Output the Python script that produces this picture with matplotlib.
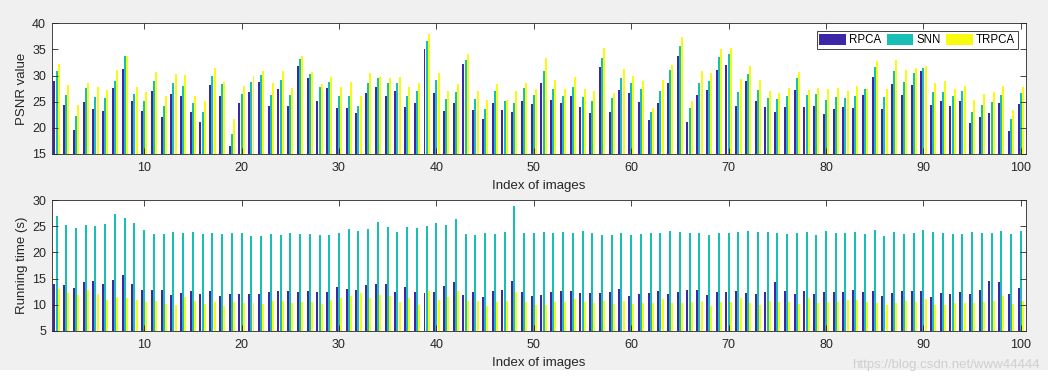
"""Grouped bar charts of PSNR and running time for RPCA, SNN and TRPCA over 100 images."""

import matplotlib
matplotlib.use('Agg')
import matplotlib.pyplot as plt
import numpy as np

methods = ['RPCA', 'SNN', 'TRPCA']

# PSNR values per image
psnr_rpca = [29.0, 24.4, 19.6, 24.9, 23.6, 23.2, 27.6, 31.3, 25.1, 23.2,
             27.05, 22.1, 26.5, 26.1, 23.0, 21.1, 28.2, 26.1, 16.5, 24.8,
             26.9, 28.8, 24.2, 27.4, 24.2, 31.8, 29.5, 25.1, 27.6, 23.8,
             23.8, 22.8, 26.7, 27.8, 26.1, 27.05, 24.0, 24.8, 35.1, 26.7,
             23.2, 24.8, 32.2, 23.4, 21.7, 24.8, 23.4, 23.0, 25.1, 24.6,
             28.6, 25.3, 24.8, 26.1, 24.0, 22.8, 31.6, 23.0, 27.2, 26.7,
             24.9, 21.5, 24.8, 28.6, 33.75, 21.1, 26.3, 27.2, 31.1, 32.0,
             24.2, 29.0, 25.1, 24.0, 23.0, 24.0, 27.2, 24.0, 24.2, 22.65,
             23.6, 24.0, 23.8, 26.3, 29.7, 23.6, 28.4, 26.3, 28.2, 30.9,
             24.4, 25.1, 24.2, 25.1, 20.9, 22.1, 22.8, 24.8, 19.4, 24.6]
psnr_snn = [30.9, 26.3, 22.3, 27.6, 25.9, 25.7, 29.0, 33.75, 26.5, 25.1,
            29.0, 24.2, 28.6, 28.0, 24.8, 23.0, 29.9, 28.4, 18.8, 26.5,
            28.8, 30.1, 26.3, 29.2, 26.3, 33.2, 30.3, 27.8, 28.8, 26.1,
            26.1, 24.2, 28.6, 29.5, 28.6, 28.6, 26.1, 27.05, 36.6, 29.2,
            25.5, 26.9, 33.0, 25.5, 23.6, 27.05, 25.1, 24.8, 27.6, 26.3,
            30.9, 27.4, 26.1, 27.8, 25.9, 25.1, 33.4, 25.7, 29.5, 28.6,
            27.4, 23.0, 27.05, 31.1, 35.7, 23.8, 28.6, 29.0, 33.6, 34.1,
            26.9, 30.3, 27.2, 25.7, 25.5, 26.1, 29.5, 26.3, 26.5, 25.3,
            25.9, 25.7, 26.1, 27.4, 31.6, 25.9, 30.9, 28.8, 30.5, 31.5,
            26.9, 26.9, 26.1, 27.05, 23.0, 24.4, 24.9, 26.3, 21.7, 26.7]
psnr_trpca = [32.2, 28.2, 24.4, 28.6, 27.8, 27.2, 31.1, 33.75, 27.8, 26.9,
              30.7, 26.1, 30.3, 30.1, 26.1, 25.1, 31.5, 28.8, 21.7, 28.0,
              29.9, 30.9, 28.6, 30.9, 27.6, 33.75, 30.7, 28.4, 29.7, 27.8,
              28.8, 26.1, 30.5, 29.7, 29.5, 29.7, 27.8, 28.6, 38.0, 30.5,
              27.05, 28.4, 34.1, 27.05, 25.3, 28.4, 25.3, 27.05, 28.6, 27.4,
              33.4, 29.2, 27.4, 29.7, 27.4, 27.05, 35.3, 26.7, 31.3, 29.9,
              29.0, 23.8, 29.2, 32.0, 37.4, 25.1, 30.9, 30.5, 35.1, 35.3,
              29.35, 31.8, 29.2, 27.05, 26.7, 27.6, 30.7, 27.2, 27.6, 27.4,
              27.6, 27.05, 28.0, 27.4, 32.8, 27.4, 33.0, 31.1, 31.5, 31.8,
              28.6, 29.0, 27.4, 28.0, 25.3, 26.5, 26.9, 28.0, 23.4, 27.8]

# running time (s) per image
time_rpca = [14.0, 13.8, 13.2, 14.3, 14.5, 14.0, 14.7, 15.7, 14.0, 12.8,
             12.8, 12.8, 11.8, 12.2, 12.6, 12.0, 12.6, 11.65, 12.0, 12.0,
             12.0, 12.0, 12.4, 12.6, 12.6, 12.4, 12.6, 12.4, 12.4, 13.4,
             13.0, 12.8, 13.8, 14.0, 14.0, 12.4, 13.4, 12.4, 12.2, 12.4,
             13.6, 14.3, 11.8, 12.4, 11.5, 12.6, 12.8, 14.5, 12.4, 11.65,
             11.8, 12.4, 12.6, 12.6, 12.2, 12.2, 12.2, 12.4, 13.0, 11.65,
             12.0, 12.2, 12.6, 12.0, 12.4, 12.8, 12.8, 11.8, 12.4, 12.4,
             12.6, 12.2, 12.0, 12.4, 14.3, 12.6, 12.0, 12.6, 12.0, 12.4,
             12.4, 12.4, 12.8, 12.4, 12.6, 11.65, 12.2, 12.6, 12.6, 12.6,
             11.5, 12.2, 12.0, 12.4, 12.0, 12.8, 14.5, 14.3, 12.0, 13.2]
time_snn = [27.0, 25.3, 24.7, 25.3, 25.1, 25.5, 27.4, 26.6, 25.65, 24.3,
            23.5, 23.5, 23.9, 23.7, 23.9, 23.5, 23.7, 23.5, 23.7, 23.7,
            23.2, 23.2, 23.5, 23.35, 23.7, 23.5, 23.5, 23.35, 23.35, 23.7,
            24.5, 24.1, 24.5, 25.8, 24.9, 23.9, 24.9, 24.7, 25.1, 25.65,
            25.3, 26.4, 23.5, 23.35, 23.7, 23.5, 23.9, 28.9, 23.7, 23.7,
            23.9, 23.7, 23.9, 23.7, 24.1, 23.7, 23.35, 23.35, 23.7, 23.35,
            23.5, 23.7, 23.7, 24.1, 23.9, 23.7, 23.7, 23.35, 23.7, 23.7,
            23.9, 24.1, 23.9, 23.9, 23.7, 23.5, 23.7, 23.9, 23.35, 24.1,
            23.7, 23.7, 23.9, 23.5, 24.3, 23.2, 23.9, 23.5, 23.7, 24.3,
            23.9, 23.7, 23.5, 23.5, 23.9, 23.7, 23.7, 24.1, 23.5, 24.1]
time_trpca = [13.0, 12.2, 11.8, 12.8, 12.0, 10.9, 11.5, 11.3, 10.9, 10.5,
              10.7, 10.1, 9.9, 11.5, 10.7, 10.1, 10.5, 9.7, 10.5, 10.3,
              10.3, 10.1, 10.7, 10.7, 10.3, 10.5, 10.5, 10.1, 10.9, 11.3,
              11.65, 12.2, 11.3, 11.8, 11.65, 10.5, 11.3, 9.9, 12.6, 10.9,
              11.5, 12.6, 10.7, 10.7, 9.7, 10.5, 10.7, 12.4, 10.5, 9.9,
              9.9, 10.5, 10.5, 11.1, 10.5, 10.3, 10.7, 10.1, 10.7, 10.1,
              10.3, 10.3, 11.1, 10.3, 10.3, 10.5, 10.7, 9.7, 10.5, 10.5,
              11.3, 10.3, 9.9, 10.7, 10.5, 10.5, 10.1, 11.3, 10.3, 10.5,
              10.5, 10.9, 10.9, 10.5, 10.3, 9.9, 10.3, 10.7, 10.5, 11.1,
              9.9, 9.9, 10.3, 10.3, 10.3, 10.5, 10.7, 11.65, 10.1, 10.7]

colors = ['#3e26a8', '#17bfb4', '#f9fb0e']
index = np.arange(1, len(psnr_rpca) + 1)


def grouped_bars(ax, series, ylim, yticks, ylabel):
    """Draw a MATLAB style grouped bar chart on ax."""
    step = 0.222
    for k, (vals, col) in enumerate(zip(series, colors)):
        ax.bar(index + (k - 1) * step, vals, width=0.205, color=col,
               label=methods[k], linewidth=0, antialiased=False)
    ax.set_xlim(0.5, 100.5)
    ax.set_ylim(*ylim)
    ax.set_yticks(yticks)
    ax.set_xticks(np.arange(10, 101, 10))
    ax.tick_params(direction='in', top=True, right=True, length=4,
                   labelsize=9, colors='#262626', width=0.6)
    ax.tick_params(axis='x', pad=6)
    ax.tick_params(axis='y', pad=4)
    for s in ax.spines.values():
        s.set_color('#262626')
        s.set_linewidth(0.6)
    ax.set_xlabel('Index of images', fontsize=9.5, labelpad=4, color='#262626')
    ax.set_ylabel(ylabel, fontsize=9.5, labelpad=3, color='#262626')


plt.rcParams['font.family'] = ['Liberation Sans', 'DejaVu Sans']
fig = plt.figure(figsize=(10.48, 3.84), dpi=100, facecolor='#f0f0f0')
# the screenshot ends in a white strip below the figure window
fig.patches.append(plt.Rectangle((0, 0), 1, 14 / 384, transform=fig.transFigure,
                                 facecolor='white', edgecolor='none', zorder=0))

ax1 = fig.add_axes([0.0493, 0.599, 0.9294, 0.3404])
grouped_bars(ax1, [psnr_rpca, psnr_snn, psnr_trpca], (15, 40),
             np.arange(15, 41, 5), 'PSNR value')
leg = ax1.legend(loc='upper right', ncol=3, fontsize=8.3, frameon=True,
                 fancybox=False, edgecolor='#262626', handlelength=2.3,
                 handleheight=1.0, handletextpad=0.25, columnspacing=0.5,
                 borderpad=0.25, borderaxespad=0.7, framealpha=1)
leg.get_frame().set_linewidth(0.6)

ax2 = fig.add_axes([0.0493, 0.1388, 0.9294, 0.3396])
grouped_bars(ax2, [time_rpca, time_snn, time_trpca], (5, 30),
             np.arange(5, 31, 5), 'Running time (s)')

fig.text(0.992, 0.035, 'https://blog.csdn.net/www44444', ha='right',
         va='bottom', fontsize=9.5, color='#cfcfcf')

fig.savefig('out.png', dpi=100, facecolor=fig.get_facecolor())
